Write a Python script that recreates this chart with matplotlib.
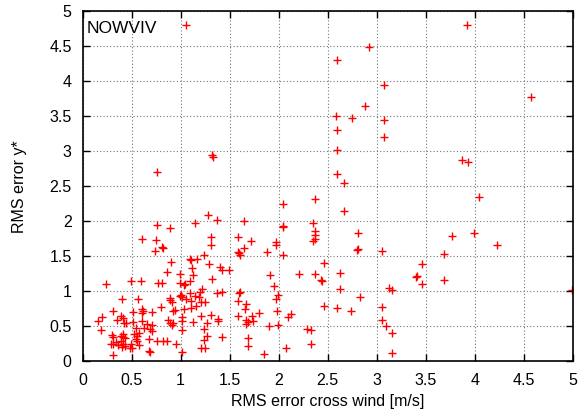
import matplotlib
matplotlib.use('Agg')
import matplotlib.pyplot as plt

# RMS error cross wind [m/s] vs RMS error y*
x_high = [1.05, 3.92, 2.92, 2.60, 3.07, 4.57, 2.88, 2.58, 2.75, 3.07, 2.60, 3.07, 2.60,
          1.32, 1.33, 0.76, 2.60, 2.67, 3.87, 3.93, 4.04, 2.67, 2.04, 2.37, 1.28, 1.37, 1.65]
y_high = [4.81, 4.80, 4.49, 4.30, 3.94, 3.78, 3.65, 3.51, 3.47, 3.45, 3.30, 3.20, 3.01,
          2.94, 2.92, 2.70, 2.68, 2.55, 2.87, 2.84, 2.34, 2.14, 2.24, 2.31, 2.09, 2.01, 2.00]

x_mid = [0.76, 0.89, 1.15, 2.04, 2.04, 2.35, 2.37, 2.37, 2.37, 2.35, 2.81, 2.80, 2.81, 3.05,
         3.77, 3.99, 4.23, 3.69, 0.61, 0.75, 0.81, 0.82, 0.74, 1.31, 1.31, 1.58, 1.72, 1.65,
         1.58, 1.60, 1.61, 1.88, 1.97, 1.97, 2.04, 1.24]
y_mid = [1.95, 1.90, 1.98, 1.92, 1.93, 1.98, 1.86, 1.80, 1.75, 1.71, 1.83, 1.59, 1.60, 1.57,
         1.79, 1.83, 1.66, 1.53, 1.74, 1.73, 1.63, 1.62, 1.57, 1.77, 1.66, 1.77, 1.72, 1.61,
         1.56, 1.54, 1.52, 1.56, 1.70, 1.66, 1.51, 1.52]

x_one = [1.10, 1.17, 1.11, 0.90, 1.29, 1.12, 0.86, 0.99, 1.13, 0.24, 0.49, 0.60, 0.77, 0.81,
         0.99, 1.03, 1.04, 1.10, 1.32, 1.22, 1.40, 1.42, 1.49, 2.46, 1.91, 1.95, 2.21, 2.37,
         2.43, 2.44, 2.63, 3.46, 3.40, 3.41, 3.46, 3.69, 2.63, 3.13, 3.16, 4.99]
y_one = [1.46, 1.46, 1.44, 1.41, 1.38, 1.33, 1.27, 1.24, 1.23, 1.10, 1.14, 1.15, 1.11, 1.11,
         1.12, 1.08, 1.10, 1.14, 1.17, 1.03, 1.34, 1.30, 1.30, 1.40, 1.23, 1.07, 1.24, 1.25,
         1.16, 1.14, 1.26, 1.38, 1.20, 1.21, 1.10, 1.16, 1.03, 1.05, 1.01, 1.02]

x_half = [0.89, 1.00, 1.01, 1.10, 1.15, 1.19, 1.20, 1.37, 1.42, 1.59, 1.61, 1.99, 1.58, 1.67,
          1.97, 1.66, 1.73, 1.80, 1.58, 1.67, 1.69, 1.67, 1.74, 1.98, 1.90, 1.99, 2.10, 2.13,
          2.46, 2.83, 2.60, 2.74, 3.05, 3.05, 3.10,
          0.40, 0.56, 0.31, 0.20, 0.16, 0.39, 0.41, 0.35, 0.42, 0.44, 0.51, 0.61, 0.62, 0.61,
          0.71, 0.51, 0.61, 0.66, 0.71,
          0.89, 0.91, 0.92, 0.94, 0.99, 1.05, 1.11, 1.16, 1.11, 1.03, 1.21, 1.25, 0.80, 0.87,
          0.89, 0.91, 0.92, 1.01, 1.13, 1.21, 1.31, 1.27, 1.38, 1.38, 1.01]
y_half = [0.90, 0.94, 0.91, 0.97, 0.93, 0.92, 0.99, 0.97, 0.98, 0.97, 0.98, 0.95, 0.86, 0.82,
          0.88, 0.75, 0.65, 0.68, 0.64, 0.58, 0.56, 0.53, 0.57, 0.71, 0.50, 0.52, 0.63, 0.67,
          0.79, 0.92, 0.76, 0.72, 0.77, 0.59, 0.50,
          0.88, 0.89, 0.72, 0.63, 0.57, 0.64, 0.61, 0.58, 0.55, 0.54, 0.70, 0.75, 0.72, 0.68,
          0.70, 0.56, 0.57, 0.53, 0.52,
          0.87, 0.84, 0.72, 0.73, 0.93, 0.89, 0.86, 0.79, 0.76, 0.75, 0.85, 0.85, 0.77, 0.58,
          0.54, 0.51, 0.54, 0.57, 0.56, 0.64, 0.66, 0.54, 0.60, 0.57, 0.63]

x_low = [0.54, 0.63, 0.69, 0.71, 0.19, 0.30, 0.31, 0.39, 0.41, 0.41, 0.43, 0.52, 0.55, 0.57,
         0.68, 0.29, 0.31, 0.34, 0.36, 0.39, 0.41, 0.43, 0.40, 0.49, 0.50, 0.54, 0.55, 0.57,
         0.68, 0.69, 0.31, 0.48, 0.76, 0.82, 0.86, 0.95, 1.01, 1.24, 1.24, 1.21, 1.25, 1.01,
         1.27, 1.42, 1.69, 1.69, 1.85, 2.07, 2.29, 2.33, 2.33, 3.16, 3.16]
y_low = [0.47, 0.47, 0.46, 0.43, 0.44, 0.37, 0.34, 0.36, 0.39, 0.35, 0.33, 0.38, 0.36, 0.40,
         0.32, 0.25, 0.24, 0.27, 0.23, 0.28, 0.24, 0.21, 0.20, 0.24, 0.19, 0.32, 0.28, 0.23,
         0.14, 0.13, 0.08, 0.18, 0.29, 0.28, 0.29, 0.24, 0.44, 0.46, 0.30, 0.19, 0.19, 0.13,
         0.36, 0.35, 0.33, 0.22, 0.10, 0.19, 0.46, 0.44, 0.25, 0.40, 0.12]

xs = x_high + x_mid + x_one + x_half + x_low
ys = y_high + y_mid + y_one + y_half + y_low

ticks = [0, 0.5, 1, 1.5, 2, 2.5, 3, 3.5, 4, 4.5, 5]
tick_labels = ['0', '0.5', '1', '1.5', '2', '2.5', '3', '3.5', '4', '4.5', '5']

plt.rcParams['font.family'] = ['Liberation Sans', 'DejaVu Sans']
plt.rcParams['font.size'] = 11.5

fig = plt.figure(figsize=(5.81, 4.17), dpi=100)
ax = fig.add_axes([0.1423, 0.1343, 0.8434, 0.8386])

ax.plot(xs, ys, linestyle='none', marker='+', color='red', markersize=5.5, markeredgewidth=1.0)

ax.set_xlim(0, 5)
ax.set_ylim(0, 5)
ax.set_xticks(ticks)
ax.set_xticklabels(tick_labels)
ax.set_yticks(ticks)
ax.set_yticklabels(tick_labels)
ax.tick_params(direction='in', top=True, right=True, length=5, width=1)
ax.tick_params(axis='x', pad=9)
ax.tick_params(axis='y', pad=8)
ax.grid(True, color='#777777', linestyle=(0, (1, 2)), linewidth=0.8)
for s in ax.spines.values():
    s.set_linewidth(1.2)

ax.set_xlabel('RMS error cross wind [m/s]', labelpad=4)
ax.set_ylabel('RMS error y*', labelpad=16)
ax.text(0.04, 4.75, 'NOWVIV', fontsize=12.5, va='center', ha='left')

fig.savefig('out.png', dpi=100)
